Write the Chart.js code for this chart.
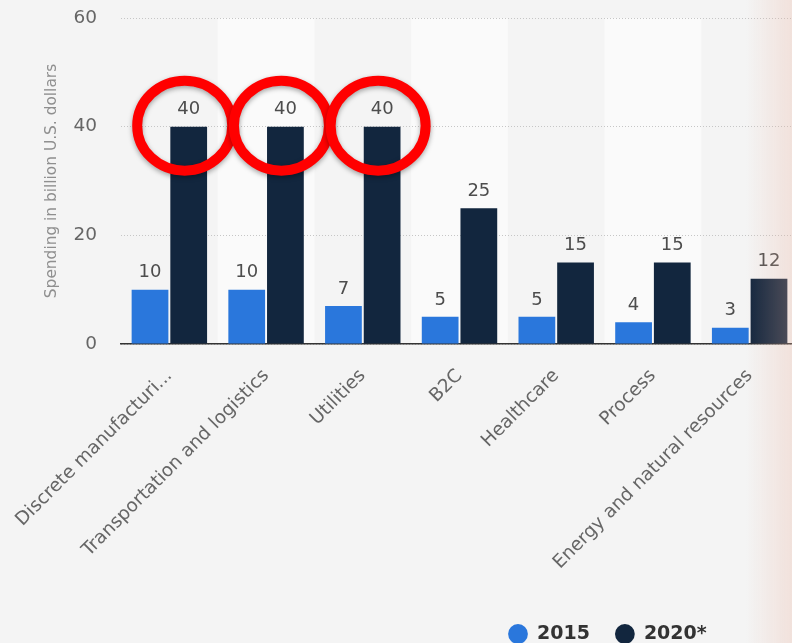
<!DOCTYPE html>
<html>
<head>
<meta charset="utf-8">
<title>IoT spending by vertical</title>
<script src="https://cdn.jsdelivr.net/npm/chart.js@4.4.1/dist/chart.umd.min.js"></script>
<style>
  html, body { margin: 0; padding: 0; background: #f4f4f4; overflow: hidden; }
  #wrap { position: relative; width: 810px; height: 643px; }
  #fade {
    position: absolute; top: 0; right: 0; width: 46px; height: 643px; pointer-events: none;
    background: linear-gradient(to right, rgba(235,180,160,0), rgba(235,180,160,0.29));
  }
</style>
</head>
<body>
<div id="wrap"><canvas id="spendChart"></canvas></div>
<div id="fade"></div>
<script>
const categories = ['Discrete manufacturi...', 'Transportation and logistics', 'Utilities', 'B2C',
                    'Healthcare', 'Process', 'Energy and natural resources'];
const spend2015 = [10, 10, 7, 5, 5, 4, 3];
const spend2020 = [40, 40, 40, 25, 15, 15, 12];
const yMax = 60;
const yStep = 20;
const circled = [0, 1, 2]; // categories ringed in red on the source image

const FONT = '"DejaVu Sans", Verdana, sans-serif';

// lighter column behind every second category
const bands = {
  id: 'bands',
  beforeDraw(chart) {
    const {ctx, chartArea, scales: {x}} = chart;
    const step = x.getPixelForValue(1) - x.getPixelForValue(0);
    ctx.save();
    ctx.fillStyle = '#fafafa';
    categories.forEach((c, i) => {
      if (i % 2 === 1) {
        const cx = x.getPixelForValue(i);
        ctx.fillRect(cx - step / 2, chartArea.top, step, chartArea.bottom - chartArea.top);
      }
    });
    ctx.restore();
  }
};

// numbers above the bars
const valueLabels = {
  id: 'valueLabels',
  afterDatasetsDraw(chart) {
    const ctx = chart.ctx;
    ctx.save();
    ctx.font = '18px ' + FONT;
    ctx.fillStyle = '#4d4d4d';
    ctx.textAlign = 'center';
    ctx.textBaseline = 'middle';
    chart.data.datasets.forEach((ds, di) => {
      chart.getDatasetMeta(di).data.forEach((bar, i) => {
        ctx.fillText(ds.data[i], bar.x, bar.y - 17);
      });
    });
    ctx.restore();
  }
};

// red rings around the 2020 labels
const rings = {
  id: 'rings',
  afterDatasetsDraw(chart) {
    const {ctx, scales: {y}} = chart;
    const bars = chart.getDatasetMeta(1).data;
    ctx.save();
    ctx.strokeStyle = '#ff0000';
    ctx.lineWidth = 10;
    ctx.shadowColor = 'rgba(0,0,0,0.35)';
    ctx.shadowBlur = 5;
    ctx.shadowOffsetY = 2;
    circled.forEach(i => {
      ctx.beginPath();
      ctx.ellipse(bars[i].x - 4, y.getPixelForValue(spend2020[i]) - 1, 47.5, 45, 0, 0, Math.PI * 2);
      ctx.stroke();
    });
    ctx.restore();
  }
};

// legend sits bottom right, partly cut off
const legendSpot = {
  id: 'legendSpot',
  afterLayout(chart) {
    const lg = chart.legend;
    const w = lg.width, h = lg.height;
    lg.left = 483; lg.right = 483 + w;
    lg.top = 599; lg.bottom = 599 + h;
  }
};

new Chart(document.getElementById('spendChart'), {
  type: 'bar',
  data: {
    labels: categories,
    datasets: [
      { label: '2015', data: spend2015, backgroundColor: '#2a77dc', borderWidth: 0 },
      { label: '2020*', data: spend2020, backgroundColor: '#12263e', borderWidth: 0 }
    ]
  },
  options: {
    responsive: true,
    maintainAspectRatio: false,
    animation: false,
    categoryPercentage: 0.8,
    barPercentage: 0.95,
    layout: { padding: { top: 18, right: 12, left: 0, bottom: 0 } },
    plugins: {
      tooltip: { enabled: false },
      legend: {
        position: 'bottom',
        align: 'start',
        labels: {
          usePointStyle: true,
          pointStyle: 'circle',
          boxHeight: 14,
          boxWidth: 19,
          padding: 25.5,
          color: '#333',
          font: { family: FONT, size: 19, weight: 'bold' }
        }
      }
    },
    scales: {
      x: {
        grid: { display: false },
        border: { display: true, color: '#333', width: 1.5 },
        ticks: {
          autoSkip: false,
          minRotation: 45,
          maxRotation: 45,
          padding: 13,
          labelOffset: 0,
          color: '#666',
          font: { family: FONT, size: 18.5 }
        },
        afterFit(scale) {
          scale.height = 643 - 344 - scale.chart.legend.height;
          scale.paddingLeft = 0;
          scale.paddingRight = 0;
        }
      },
      y: {
        min: 0,
        max: yMax,
        ticks: {
          stepSize: yStep,
          padding: 24,
          color: '#666',
          font: { family: FONT, size: 18.5 }
        },
        grid: { color: '#c6c6c6', lineWidth: 1, drawTicks: false },
        border: { display: false, dash: [1, 2] },
        title: {
          display: true,
          text: 'Spending in billion U.S. dollars',
          color: '#8f8f8f',
          font: { family: FONT, size: 15.4 },
          padding: { top: 43, bottom: 0 }
        },
        afterFit(scale) {
          scale.width = 121;
          scale.paddingTop = 0;
          scale.paddingBottom = 0;
        }
      }
    }
  },
  plugins: [bands, valueLabels, rings, legendSpot]
});
</script>
</body>
</html>
